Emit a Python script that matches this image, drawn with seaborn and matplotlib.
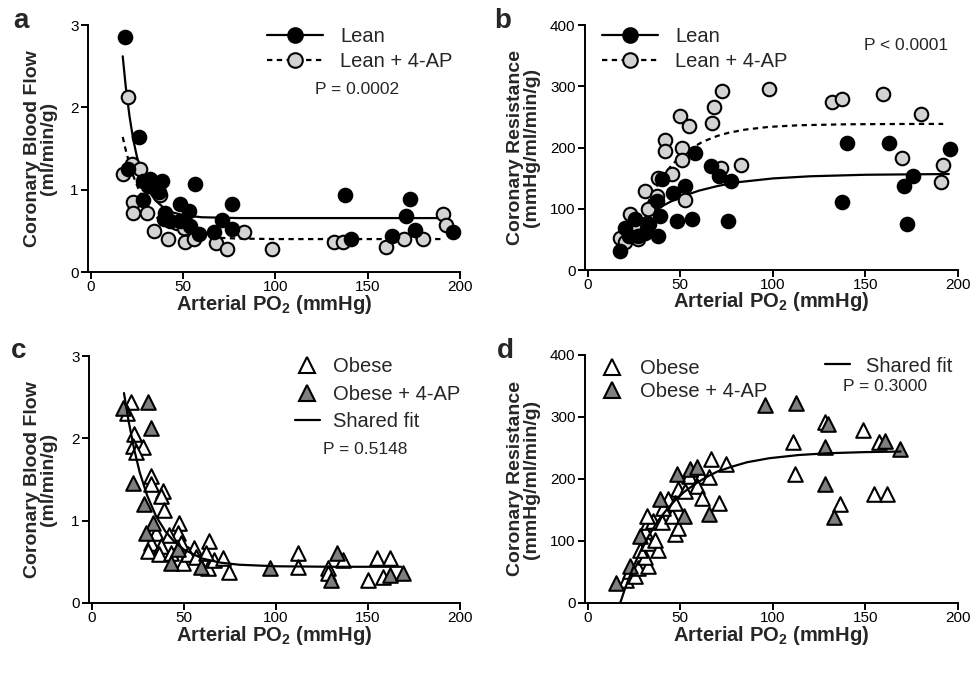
import numpy as np
import pandas as pd
import matplotlib
matplotlib.use("Agg")
import matplotlib.pyplot as plt
import seaborn as sns
from matplotlib.lines import Line2D

# ---------------- data ----------------
# Panel a: coronary blood flow, lean
a_lean_x = [18.5, 26.3, 20.3, 28.5, 32.2, 38.5, 36.7, 28.5, 56.7, 48.5, 53, 40.3, 39.4, 48.5, 54, 58.5,
            76.7, 71.2, 66.6, 76.7, 43, 31, 137.5, 141, 173, 170.7, 163, 175.7, 196.2]
a_lean_y = [2.85, 1.64, 1.25, 1.11, 1.13, 1.11, 0.97, 0.87, 1.07, 0.83, 0.74, 0.72, 0.64, 0.62, 0.56, 0.46,
            0.83, 0.63, 0.48, 0.52, 0.62, 1.05, 0.94, 0.40, 0.89, 0.68, 0.44, 0.51, 0.48]
a_ap_x = [20.3, 17.6, 22.2, 26.7, 37.6, 23, 23, 30.3, 34, 42.1, 51.2, 55.7, 67.6, 73.9, 83, 97.9,
          132, 136.6, 159.7, 169.8, 180.2, 191, 192.4, 50.3]
a_ap_y = [2.13, 1.19, 1.31, 1.25, 0.93, 0.85, 0.72, 0.72, 0.50, 0.40, 0.36, 0.40, 0.35, 0.28, 0.49, 0.28,
          0.36, 0.36, 0.30, 0.40, 0.40, 0.70, 0.57, 0.54]
a_lean_fit_x = [17.3, 19, 21, 23, 25, 28, 31, 35, 40, 45, 50, 60, 70, 80, 100, 150, 192]
a_lean_fit_y = [2.62, 2.24, 1.89, 1.61, 1.40, 1.16, 1.00, 0.87, 0.77, 0.72, 0.69, 0.665, 0.66, 0.655, 0.655, 0.655, 0.655]
a_ap_fit_x = [17.3, 19, 21, 23, 26, 30, 35, 40, 45, 50, 60, 70, 80, 100, 150, 190]
a_ap_fit_y = [1.64, 1.475, 1.31, 1.17, 1.00, 0.83, 0.68, 0.58, 0.52, 0.48, 0.435, 0.415, 0.406, 0.40, 0.40, 0.40]

# Panel b: coronary resistance, lean
b_lean_x = [17.3, 20, 25.4, 27.2, 30.9, 38.1, 39, 37.2, 40, 46.3, 52.7, 48.1, 56.3, 58.1, 66.3, 70.8,
            77.2, 75.9, 140.2, 137.2, 162.6, 175.9, 170.7, 172.6, 195.8, 22, 33]
b_lean_y = [31, 69, 83, 56, 61, 56, 88, 113, 148, 126, 137, 80, 83, 191, 170, 153,
            145, 80, 208, 111, 208, 154, 137, 75, 197, 55, 75]
b_ap_x = [17.3, 22.7, 27.2, 30.9, 32.7, 37.2, 38.1, 41.8, 41.8, 45.4, 50, 54.5, 50.9, 50.9, 52.7,
          67.2, 68.1, 72.6, 71.8, 82.7, 97.7, 132.2, 137.2, 159.5, 179.8, 169.9, 191.7, 190.7, 20, 25]
b_ap_y = [53, 91, 50, 129, 99, 121, 151, 213, 194, 156, 251, 235, 200, 180, 115,
          240, 266, 293, 167, 172, 296, 275, 280, 288, 254, 183, 172, 143, 45, 70]
b_lean_fit_x = [18, 25, 30, 35, 40, 45, 50, 60, 70, 80, 100, 120, 150, 195]
b_lean_fit_y = [49, 71, 84, 95, 104, 112, 119, 129.5, 137, 143, 149.5, 153, 155.5, 156.7]
b_ap_fit_x = [30, 35, 40, 45, 50, 55, 62, 70, 76, 85, 98, 114, 140, 170, 192]
b_ap_fit_y = [93.7, 125.7, 150.6, 170.1, 185.2, 197, 209.3, 218.9, 224, 229.2, 233.7, 236.3, 237.9, 238.4, 238.5]

# Panel c: coronary blood flow, obese
c_ob_x = [21.3, 19.4, 23, 22.2, 27.6, 24, 32.2, 32.2, 38.5, 37.6, 39.4, 47.6, 46.7, 34.9, 42.1, 32.2,
          37.6, 30.3, 48.5, 55.7, 63.9, 36.7, 43, 49.4, 52.1, 56.7, 63, 66.6, 71.2, 74.8, 62.1,
          112.1, 112.1, 136.6, 128.4, 154.8, 162, 150.2, 158.4, 128.4]
c_ob_y = [2.44, 2.31, 2.05, 1.91, 1.89, 1.83, 1.54, 1.44, 1.36, 1.30, 1.13, 0.97, 0.85, 0.85, 0.83, 0.73,
          0.69, 0.63, 0.73, 0.67, 0.75, 0.59, 0.61, 0.48, 0.59, 0.56, 0.42, 0.52, 0.55, 0.38, 0.61,
          0.61, 0.44, 0.52, 0.42, 0.55, 0.55, 0.28, 0.32, 0.36]
c_ap_x = [16.7, 30.3, 32.2, 22.2, 28.5, 33.1, 29.4, 43, 59.4, 96.6, 46.7, 133, 130.2, 162, 169.3]
c_ap_y = [2.37, 2.44, 2.13, 1.46, 1.20, 0.97, 0.85, 0.48, 0.44, 0.42, 0.65, 0.61, 0.28, 0.34, 0.36]
c_fit_x = [17.5, 20, 23, 26, 30, 35, 40, 45, 50, 60, 70, 80, 100, 130, 168]
c_fit_y = [2.55, 2.21, 1.87, 1.59, 1.31, 1.05, 0.87, 0.74, 0.65, 0.54, 0.49, 0.465, 0.446, 0.44, 0.44]

# Panel d: coronary resistance, obese
d_ob_x = [20.9, 22.7, 25.4, 27.2, 32.7, 30.9, 28.2, 32.7, 38.1, 36.3, 30.9, 32.7, 35.4, 31.8, 40, 47.2,
          49, 45.4, 40.9, 43.6, 49, 52.7, 47.2, 54.5, 60.9, 59, 61.7, 65.4, 66.3, 74.5, 70.8,
          110.8, 111.7, 128, 136.2, 148.9, 157.1, 154.4, 161.7]
d_ob_y = [37, 51, 43, 56, 59, 75, 86, 97, 86, 102, 116, 130, 132, 140, 130, 111,
          121, 140, 154, 167, 184, 181, 162, 205, 205, 189, 170, 203, 233, 224, 162,
          260, 208, 292, 159, 279, 260, 176, 176]
d_ap_x = [15.4, 22.7, 28.2, 51.8, 39, 48.1, 55.4, 59, 65.4, 95.5, 112.6, 129.9, 128, 128, 133.1, 160.8, 168.6]
d_ap_y = [32, 59, 108, 140, 167, 208, 216, 219, 143, 319, 322, 289, 252, 192, 138, 262, 249]
d_fit_x = [17.5, 20, 22, 25, 29, 33, 38, 43, 47, 52, 58, 64, 70, 78, 86, 98, 114, 130, 150, 169]
d_fit_y = [0, 22, 38, 61, 87, 109, 133, 152, 165, 179, 192, 203, 212, 220, 227, 233.5, 238.7, 241.6, 243.4, 244.3]

x_ticks = [0, 50, 100, 150, 200]
flow_ticks = [0, 1, 2, 3]
res_ticks = [0, 100, 200, 300, 400]

# ---------------- style ----------------
sns.set_style("ticks")
plt.rcParams['font.family'] = ['Liberation Sans', 'DejaVu Sans']
plt.rcParams['mathtext.fontset'] = 'custom'
plt.rcParams['mathtext.rm'] = 'Liberation Sans'
plt.rcParams['mathtext.bf'] = 'Liberation Sans:bold'
plt.rcParams['mathtext.default'] = 'bf'

W, H = 978, 673
fig = plt.figure(figsize=(W / 100, H / 100), dpi=100)
fig.patch.set_facecolor('white')

LIGHT = '#d3d3d3'
DARK = '#7f7f7f'
DASH = (0, (2.4, 2.0))
LW = 1.6


def add_ax(l, t, r, b):
    return fig.add_axes([l / W, 1 - b / H, (r - l) / W, (b - t) / H])


def style(ax, ylim, yticks):
    ax.set_xlim(-1.5, 200)
    ax.set_ylim(*ylim)
    ax.set_xticks(x_ticks)
    ax.set_yticks(yticks)
    for s in ['top', 'right']:
        ax.spines[s].set_visible(False)
    for s in ['left', 'bottom']:
        ax.spines[s].set_linewidth(1.4)
        ax.spines[s].set_color('black')
    ax.tick_params(direction='out', length=4.8, width=1.4, labelsize=11, colors='black', pad=2)
    ax.tick_params(axis='x', pad=1)
    ax.set_facecolor('white')
    ax.grid(False)


def scatter(ax, x, y, marker, fc, s, z):
    sns.scatterplot(x=x, y=y, ax=ax, marker=marker, s=s, color=fc, edgecolor='black',
                    linewidth=1.5, zorder=z, legend=False, clip_on=False)


def line(ax, x, y, dashed=False, z=2):
    sns.lineplot(x=x, y=y, ax=ax, color='black', lw=LW, sort=False, estimator=None,
                 legend=False, zorder=z)
    if dashed:
        ax.lines[-1].set_linestyle(DASH)


def legend(ax, handles, labels, x, y, hl, htp, ls):
    leg = ax.legend(handles, labels, loc='upper left', bbox_to_anchor=(x / W, 1 - y / H),
                    bbox_transform=fig.transFigure, frameon=False, fontsize=14.5,
                    handlelength=hl, handletextpad=htp, labelspacing=ls,
                    borderpad=0, borderaxespad=0)
    return leg


def ptext(x, y, s):
    fig.text(x / W, 1 - y / H, s, fontsize=12.5, ha='center', va='center')


xlabel = r"Arterial PO$_2$ (mmHg)"

# ---- panel a ----
axa = add_ax(88, 25, 460, 272)
style(axa, (0, 3), flow_ticks)
line(axa, a_lean_fit_x, a_lean_fit_y)
line(axa, a_ap_fit_x, a_ap_fit_y, dashed=True)
scatter(axa, a_ap_x, a_ap_y, 'o', LIGHT, 95, 3)
scatter(axa, a_lean_x, a_lean_y, 'o', 'black', 95, 4)
h1 = Line2D([], [], color='black', lw=LW, marker='o', ms=10.5, mfc='black', mec='black', mew=1.5)
h2 = Line2D([], [], color='black', lw=LW, ls=DASH, marker='o', ms=10.5, mfc=LIGHT, mec='black', mew=1.5)
legend(axa, [h1, h2], ['Lean', 'Lean + 4-AP'], 267, 27.5, 2.78, 0.84, 0.28)
ptext(357, 90, 'P = 0.0002')

# ---- panel b ----
axb = add_ax(585, 25, 958, 270)
style(axb, (0, 400), res_ticks)
line(axb, b_lean_fit_x, b_lean_fit_y)
line(axb, b_ap_fit_x, b_ap_fit_y, dashed=True)
scatter(axb, b_ap_x, b_ap_y, 'o', LIGHT, 95, 3)
scatter(axb, b_lean_x, b_lean_y, 'o', 'black', 95, 4)
legend(axb, [h1, h2], ['Lean', 'Lean + 4-AP'], 602, 27.5, 2.78, 0.84, 0.28)
ptext(906, 46, 'P < 0.0001')

# ---- panel c ----
axc = add_ax(89, 356, 460, 603)
style(axc, (0, 3), flow_ticks)
scatter(axc, c_ob_x, c_ob_y, '^', 'white', 110, 3)
scatter(axc, c_ap_x, c_ap_y, '^', DARK, 110, 4)
line(axc, c_fit_x, c_fit_y, z=5)
t1 = Line2D([], [], ls='none', marker='^', ms=11, mfc='white', mec='black', mew=1.5)
t2 = Line2D([], [], ls='none', marker='^', ms=11, mfc=DARK, mec='black', mew=1.5)
f1 = Line2D([], [], color='black', lw=LW)
legend(axc, [t1, t2, f1], ['Obese', 'Obese + 4-AP', 'Shared fit'], 295, 357.5, 1.24, 0.65, 0.4)
ptext(365, 450, 'P = 0.5148')

# ---- panel d ----
axd = add_ax(585, 355, 958, 603)
style(axd, (0, 400), res_ticks)
scatter(axd, d_ob_x, d_ob_y, '^', 'white', 110, 3)
scatter(axd, d_ap_x, d_ap_y, '^', DARK, 110, 4)
line(axd, d_fit_x, d_fit_y, z=5)
leg1 = legend(axd, [t1, t2], ['Obese', 'Obese + 4-AP'], 600, 359, 1.24, 0.75, 0.2)
axd.add_artist(leg1)
legend(axd, [f1], ['Shared fit'], 825, 356.5, 1.24, 0.8, 0.0)
ptext(885, 387, 'P = 0.3000')

# ---- labels ----
for ax, yl, xc in [(axa, "Coronary Blood Flow\n(ml/min/g)", 57),
                   (axb, "Coronary Resistance\n(mmHg/ml/min/g)", 540),
                   (axc, "Coronary Blood Flow\n(ml/min/g)", 57),
                   (axd, "Coronary Resistance\n(mmHg/ml/min/g)", 540)]:
    ax.set_ylabel(yl, fontsize=14, fontweight='bold', linespacing=0.95)
    bb = ax.get_position()
    left_px = bb.x0 * W
    width_px = bb.width * W
    ax.yaxis.set_label_coords((xc - left_px) / width_px, 0.5)
    ax.set_xlabel(xlabel, fontsize=14.5, fontweight='bold')
    ax.xaxis.set_label_coords(0.5, -0.083)

for s, x, y in [('a', 21, 28), ('b', 503, 28), ('c', 19, 358), ('d', 505, 358)]:
    fig.text(x / W, 1 - y / H, s, fontsize=20, fontweight='bold', ha='center', va='baseline')

fig.savefig('out.png', dpi=100, facecolor='white')
